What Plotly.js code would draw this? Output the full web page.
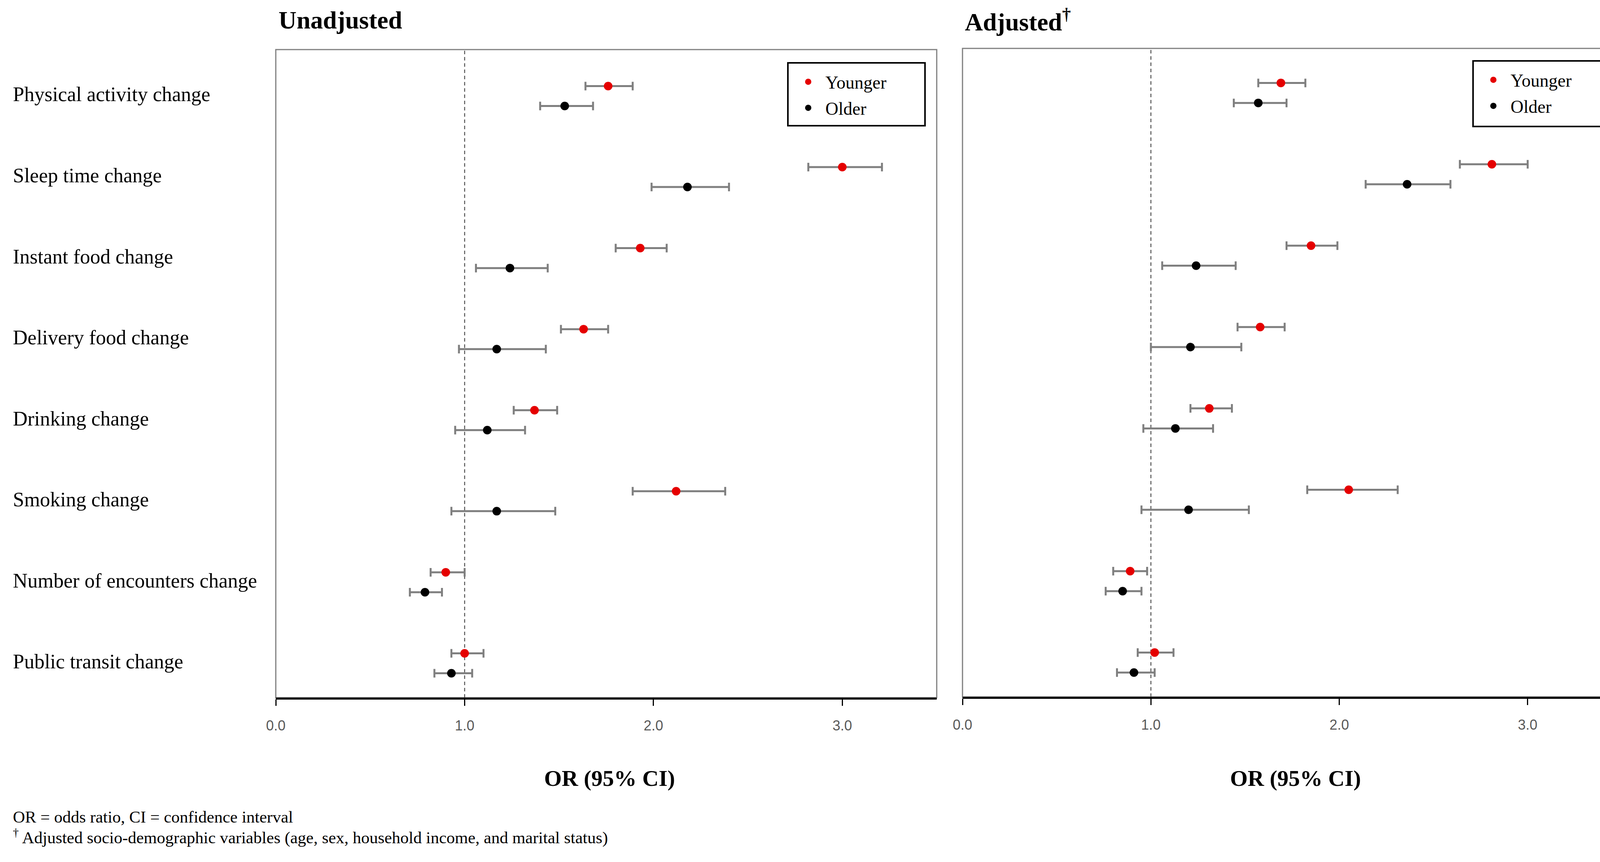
<!DOCTYPE html>
<html>
<head>
<meta charset="utf-8">
<script src="https://cdn.plot.ly/plotly-3.0.1.min.js"></script>
<style>html,body{margin:0;padding:0;background:#fff;}</style>
</head>
<body>
<div id="chart" style="width:4194px;height:2208px;"></div>
<script>
// ---------------- DATA ----------------
const categories = [
  "Physical activity change",
  "Sleep time change",
  "Instant food change",
  "Delivery food change",
  "Drinking change",
  "Smoking change",
  "Number of encounters change",
  "Public transit change"
];
const groups = ["Younger", "Older"];

// Unadjusted odds ratios and 95% CI
const unadjYoungerOR    = [1.76, 3.00, 1.93, 1.63, 1.37, 2.12, 0.90, 1.00];
const unadjYoungerLower = [1.64, 2.82, 1.80, 1.51, 1.26, 1.89, 0.82, 0.93];
const unadjYoungerUpper = [1.89, 3.21, 2.07, 1.76, 1.49, 2.38, 1.00, 1.10];
const unadjOlderOR      = [1.53, 2.18, 1.24, 1.17, 1.12, 1.17, 0.79, 0.93];
const unadjOlderLower   = [1.40, 1.99, 1.06, 0.97, 0.95, 0.93, 0.71, 0.84];
const unadjOlderUpper   = [1.68, 2.40, 1.44, 1.43, 1.32, 1.48, 0.88, 1.04];

// Adjusted odds ratios and 95% CI
const adjYoungerOR      = [1.69, 2.81, 1.85, 1.58, 1.31, 2.05, 0.89, 1.02];
const adjYoungerLower   = [1.57, 2.64, 1.72, 1.46, 1.21, 1.83, 0.80, 0.93];
const adjYoungerUpper   = [1.82, 3.00, 1.99, 1.71, 1.43, 2.31, 0.98, 1.12];
const adjOlderOR        = [1.57, 2.36, 1.24, 1.21, 1.13, 1.20, 0.85, 0.91];
const adjOlderLower     = [1.44, 2.14, 1.06, 1.00, 0.96, 0.95, 0.76, 0.82];
const adjOlderUpper     = [1.72, 2.59, 1.45, 1.48, 1.33, 1.52, 0.95, 1.02];

const xTickValues = [0, 1, 2, 3];
const referenceOR = 1;
const panelTitles = ["Unadjusted", "Adjusted<sup>†</sup>"];
const axisTitle = "OR (95% CI)";
const footnotes = [
  "OR = odds ratio, CI = confidence interval",
  "<sup>†</sup> Adjusted socio-demographic variables (age, sex, household income, and marital status)"
];

// ---------------- STYLE ----------------
const W = 4194, H = 2208;
const SERIF = "Liberation Serif, Times New Roman, serif";
const SANS = "Liberation Sans Narrow, Liberation Sans, Arial, sans-serif";
const groupColors = {Younger: "#e50000", Older: "#000000"};
const groupOffset = {Younger: -0.123, Older: 0.123};
const px = v => v / W;           // x pixel -> paper
const py = v => (H - v) / H;     // y pixel (from top) -> paper

function makeTrace(group, orv, lo, hi, xa, ya, legendId) {
  return {
    type: "scatter",
    mode: "markers",
    name: group,
    legendgroup: group,
    x: orv,
    y: categories.map((c, i) => i + groupOffset[group]),
    xaxis: xa, yaxis: ya,
    legend: legendId,
    marker: {color: groupColors[group], size: 22},
    error_x: {
      type: "data", symmetric: false,
      array: hi.map((h, i) => +(h - orv[i]).toFixed(3)),
      arrayminus: lo.map((l, i) => +(orv[i] - l).toFixed(3)),
      color: "#7f7f7f", thickness: 5, width: 11
    },
    hoverinfo: "x+name"
  };
}

const traces = [
  makeTrace("Younger", unadjYoungerOR, unadjYoungerLower, unadjYoungerUpper, "x", "y", "legend"),
  makeTrace("Older", unadjOlderOR, unadjOlderLower, unadjOlderUpper, "x", "y", "legend"),
  makeTrace("Younger", adjYoungerOR, adjYoungerLower, adjYoungerUpper, "x2", "y2", "legend2"),
  makeTrace("Older", adjOlderOR, adjOlderLower, adjOlderUpper, "x2", "y2", "legend2")
];

function xAxis(domain, anchor) {
  return {
    domain: domain, anchor: anchor, range: [0, 3.5],
    tickvals: xTickValues, tickformat: ".1f",
    ticks: "outside", ticklen: 16, tickwidth: 3, tickcolor: "#000",
    ticklabelstandoff: 20,
    showline: true, linecolor: "#000", linewidth: 5,
    showgrid: false, zeroline: false,
    tickfont: {family: SANS, size: 36, color: "#595959"},
    fixedrange: true
  };
}
function yAxis(domain, range, anchor) {
  return {
    domain: domain, anchor: anchor, range: range,
    showticklabels: false, showgrid: false, zeroline: false,
    showline: false, ticks: "", fixedrange: true
  };
}

const xDom1 = [px(706), px(2398)];
const xDom2 = [px(2464), px(4152)];

const shapes = [];
[["x", "y"], ["x2", "y2"]].forEach(([xa, ya]) => {
  shapes.push({type: "rect", xref: xa + " domain", yref: ya + " domain",
    x0: 0, x1: 1, y0: 0, y1: 1, line: {color: "#7f7f7f", width: 3}, layer: "below"});
  shapes.push({type: "line", xref: xa, yref: ya + " domain",
    x0: referenceOR, x1: referenceOR, y0: 0, y1: 1,
    line: {color: "#555555", width: 2.5, dash: "9px,7px"}, layer: "below"});
});
// legend frames (fixed-size boxes as in the reference)
[[2017, 161, 2368, 322], [3771, 156, 4123, 324]].forEach(b => {
  shapes.push({type: "rect", xref: "paper", yref: "paper",
    x0: px(b[0]), x1: px(b[2]), y0: py(b[3]), y1: py(b[1]),
    line: {color: "#000", width: 4}, fillcolor: "rgba(0,0,0,0)", layer: "above"});
});

const annotations = [];
categories.forEach((c, i) => {
  annotations.push({xref: "paper", yref: "y", x: px(31), y: i, xanchor: "left", yanchor: "middle",
    text: c, showarrow: false, yshift: 4, font: {family: SERIF, size: 52, color: "#000"}});
});
annotations.push({xref: "paper", yref: "paper", x: px(711), y: py(52), xanchor: "left", yanchor: "middle",
  text: "<b>" + panelTitles[0] + "</b>", showarrow: false, font: {family: SERIF, size: 64, color: "#000"}});
annotations.push({xref: "paper", yref: "paper", x: px(2468), y: py(52), xanchor: "left", yanchor: "middle",
  text: "<b>" + panelTitles[1] + "</b>", showarrow: false, font: {family: SERIF, size: 64, color: "#000"}});
[xDom1, xDom2].forEach(d => {
  annotations.push({xref: "paper", yref: "paper", x: (d[0] + d[1]) / 2 + px(8), y: py(1993),
    xanchor: "center", yanchor: "middle", text: "<b>" + axisTitle + "</b>", showarrow: false,
    font: {family: SERIF, size: 58, color: "#000"}});
});
annotations.push({xref: "paper", yref: "paper", x: px(31), y: py(2092), xanchor: "left", yanchor: "middle",
  text: footnotes[0], showarrow: false, font: {family: SERIF, size: 43, color: "#000"}});
annotations.push({xref: "paper", yref: "paper", x: px(31), y: py(2142), xanchor: "left", yanchor: "middle",
  text: footnotes[1], showarrow: false, font: {family: SERIF, size: 43, color: "#000"}});

function legendCfg(xPix, yPix) {
  return {
    x: px(xPix), y: py(yPix), xanchor: "left", yanchor: "top",
    bgcolor: "rgba(255,255,255,0)", borderwidth: 0,
    font: {family: SERIF, size: 46, color: "#000"},
    itemsizing: "trace", itemwidth: 78, tracegroupgap: 4
  };
}

const layout = {
  width: W, height: H,
  margin: {l: 0, r: 0, t: 0, b: 0},
  paper_bgcolor: "#fff", plot_bgcolor: "#fff",
  showlegend: true,
  xaxis: xAxis(xDom1, "y"),
  yaxis: yAxis([py(1787), py(127)], [7.424, -0.573], "x"),
  xaxis2: xAxis(xDom2, "y2"),
  yaxis2: yAxis([py(1785), py(124)], [7.422, -0.547], "x2"),
  legend: legendCfg(2025, 173),
  legend2: legendCfg(3779, 168),
  shapes: shapes,
  annotations: annotations
};

Plotly.newPlot("chart", traces, layout, {displayModeBar: false, staticPlot: true});
</script>
</body>
</html>
